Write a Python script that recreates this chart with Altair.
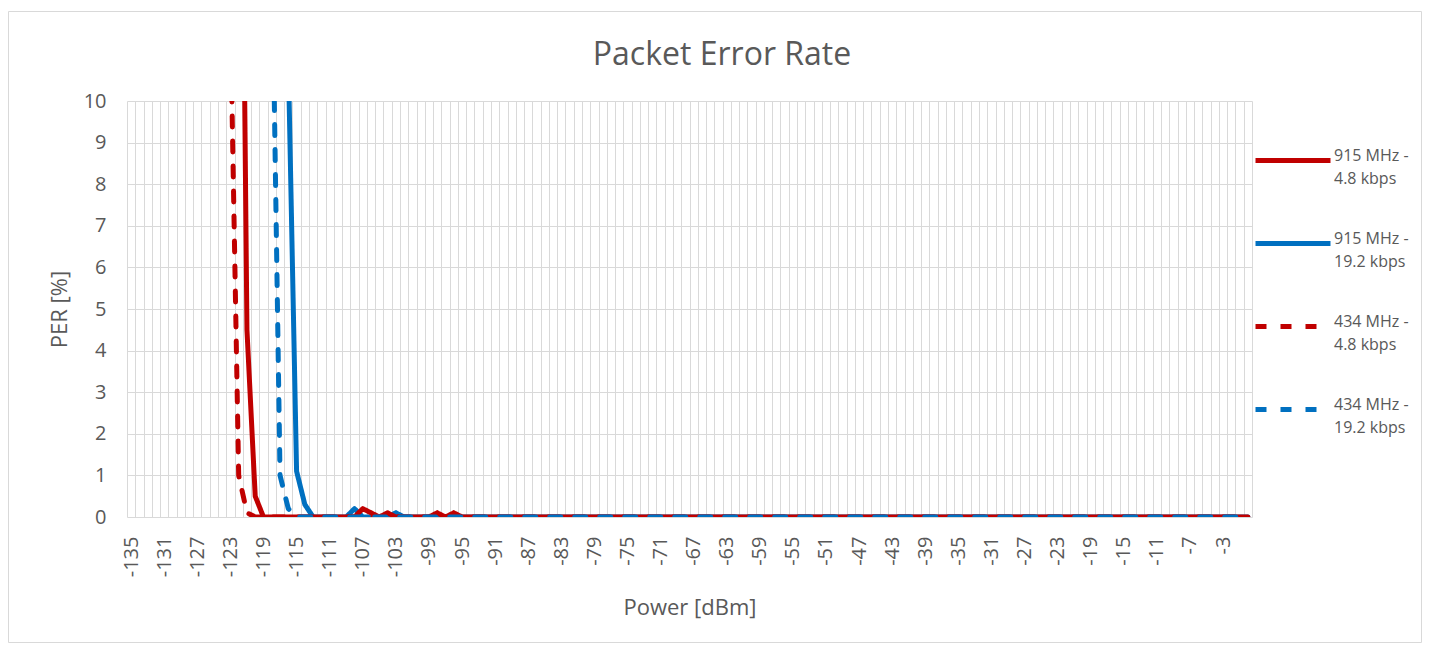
import altair as alt
import pandas as pd

# ---------------- data ----------------
power = list(range(-135, 1))  # categories -135 .. 0 dBm

series_names = [
    "915 MHz - 4.8 kbps",
    "915 MHz - 19.2 kbps",
    "434 MHz - 4.8 kbps",
    "434 MHz - 19.2 kbps",
]

per_915_48 = [
    100, 100, 100, 100, 100, 100, 100, 100, 100, 100, 100, 100, 100,  # -135..-123
    25, 4.5, 0.5,                                                     # -122..-120
    0, 0, 0, 0, 0, 0, 0, 0, 0, 0, 0, 0,                               # -119..-108
    0.2, 0.1, 0, 0.1,                                                 # -107..-104
    0, 0, 0, 0, 0,                                                    # -103..-99
    0.1, 0, 0.1,                                                      # -98..-96
    0, 0, 0, 0, 0, 0, 0, 0, 0, 0, 0, 0, 0, 0, 0, 0,                   # -95..-80
    0, 0, 0, 0, 0, 0, 0, 0, 0, 0, 0, 0, 0, 0, 0, 0,                   # -79..-64
    0, 0, 0, 0, 0, 0, 0, 0, 0, 0, 0, 0, 0, 0, 0, 0,                   # -63..-48
    0, 0, 0, 0, 0, 0, 0, 0, 0, 0, 0, 0, 0, 0, 0, 0,                   # -47..-32
    0, 0, 0, 0, 0, 0, 0, 0, 0, 0, 0, 0, 0, 0, 0, 0,                   # -31..-16
    0, 0, 0, 0, 0, 0, 0, 0, 0, 0, 0, 0, 0, 0, 0, 0,                   # -15..0
]

per_915_192 = [
    100, 100, 100, 100, 100, 100, 100, 100, 100, 100,                 # -135..-126
    100, 100, 100, 100, 100, 100, 100, 100, 100,                      # -125..-117
    11, 1.1, 0.3,                                                     # -116..-114
    0, 0, 0, 0, 0,                                                    # -113..-109
    0.2,                                                              # -108
    0, 0, 0, 0,                                                       # -107..-104
    0.1,                                                              # -103
    0, 0, 0, 0, 0, 0, 0,                                              # -102..-96
    0, 0, 0, 0, 0, 0, 0, 0, 0, 0, 0, 0, 0, 0, 0, 0,                   # -95..-80
    0, 0, 0, 0, 0, 0, 0, 0, 0, 0, 0, 0, 0, 0, 0, 0,                   # -79..-64
    0, 0, 0, 0, 0, 0, 0, 0, 0, 0, 0, 0, 0, 0, 0, 0,                   # -63..-48
    0, 0, 0, 0, 0, 0, 0, 0, 0, 0, 0, 0, 0, 0, 0, 0,                   # -47..-32
    0, 0, 0, 0, 0, 0, 0, 0, 0, 0, 0, 0, 0, 0, 0, 0,                   # -31..-16
    0, 0, 0, 0, 0, 0, 0, 0, 0, 0, 0, 0, 0, 0, 0, 0,                   # -15..0
]

per_434_48 = [
    100, 100, 100, 100, 100, 100, 100, 100, 100, 100, 100, 100,       # -135..-124
    12, 1.0, 0.1,                                                     # -123..-121
    0, 0, 0, 0, 0, 0, 0, 0, 0, 0, 0, 0, 0,                            # -120..-108
    0, 0, 0, 0, 0, 0, 0, 0, 0, 0, 0, 0,                               # -107..-96
    0, 0, 0, 0, 0, 0, 0, 0, 0, 0, 0, 0, 0, 0, 0, 0,                   # -95..-80
    0, 0, 0, 0, 0, 0, 0, 0, 0, 0, 0, 0, 0, 0, 0, 0,                   # -79..-64
    0, 0, 0, 0, 0, 0, 0, 0, 0, 0, 0, 0, 0, 0, 0, 0,                   # -63..-48
    0, 0, 0, 0, 0, 0, 0, 0, 0, 0, 0, 0, 0, 0, 0, 0,                   # -47..-32
    0, 0, 0, 0, 0, 0, 0, 0, 0, 0, 0, 0, 0, 0, 0, 0,                   # -31..-16
    0, 0, 0, 0, 0, 0, 0, 0, 0, 0, 0, 0, 0, 0, 0, 0,                   # -15..0
]

per_434_192 = [
    100, 100, 100, 100, 100, 100, 100, 100, 100,                      # -135..-127
    100, 100, 100, 100, 100, 100, 100, 100,                           # -126..-119
    14, 1.0, 0.2,                                                     # -118..-116
    0, 0, 0, 0, 0, 0, 0, 0,                                           # -115..-108
    0, 0, 0, 0, 0, 0, 0, 0, 0, 0, 0, 0,                               # -107..-96
    0, 0, 0, 0, 0, 0, 0, 0, 0, 0, 0, 0, 0, 0, 0, 0,                   # -95..-80
    0, 0, 0, 0, 0, 0, 0, 0, 0, 0, 0, 0, 0, 0, 0, 0,                   # -79..-64
    0, 0, 0, 0, 0, 0, 0, 0, 0, 0, 0, 0, 0, 0, 0, 0,                   # -63..-48
    0, 0, 0, 0, 0, 0, 0, 0, 0, 0, 0, 0, 0, 0, 0, 0,                   # -47..-32
    0, 0, 0, 0, 0, 0, 0, 0, 0, 0, 0, 0, 0, 0, 0, 0,                   # -31..-16
    0, 0, 0, 0, 0, 0, 0, 0, 0, 0, 0, 0, 0, 0, 0, 0,                   # -15..0
]

series_values = [per_915_48, per_915_192, per_434_48, per_434_192]
for vals in series_values:
    assert len(vals) == len(power)

y_ticks = [0, 1, 2, 3, 4, 5, 6, 7, 8, 9, 10]
x_label_step = 4

rows = []
for name, vals in zip(series_names, series_values):
    for p, v in zip(power, vals):
        rows.append({"power": p, "per": v, "series": name})
df = pd.DataFrame(rows)

# category boundaries (gridlines between categories, Excel style)
x_bounds = [p - 0.5 for p in power] + [power[-1] + 0.5]

# ---------------- style ----------------
FONT = "Open Sans"
TXT = "#595959"
GRID = "#d9d9d9"
RED = "#C00000"
BLUE = "#0070C0"

W, H = 1125, 416
unit = W / len(power)

x_enc = alt.X(
    "power:Q",
    scale=alt.Scale(domain=[x_bounds[0], x_bounds[-1]], nice=False, zero=False),
    axis=alt.Axis(
        values=x_bounds,
        labelExpr=(
            f"(datum.value < 0 && (datum.value - ({x_bounds[0]})) % {x_label_step} == 0)"
            " ? '' + (datum.value + 0.5) : ''"
        ),
        labelAngle=270,
        labelOffset=unit / 2,
        labelOverlap=False,
        labelFlush=False,
        labelPadding=19,
        labelFont=FONT,
        labelFontSize=20,
        labelColor=TXT,
        ticks=False,
        domain=False,
        grid=True,
        gridColor=GRID,
        gridWidth=1,
        title="Power [dBm]",
        titleFont=FONT,
        titleFontSize=22,
        titleFontWeight="normal",
        titleColor=TXT,
        titleX=W / 2,
        titleY=90,
        titleBaseline="middle",
        titleAlign="center",
    ),
)

y_enc = alt.Y(
    "per:Q",
    scale=alt.Scale(domain=[0, 10], nice=False),
    axis=alt.Axis(
        values=y_ticks,
        labelFont=FONT,
        labelFontSize=20,
        labelColor=TXT,
        labelPadding=21,
        ticks=False,
        domain=False,
        grid=True,
        gridColor=GRID,
        gridWidth=1,
        title="PER [%]",
        titleFont=FONT,
        titleFontSize=22,
        titleFontWeight="normal",
        titleColor=TXT,
        titleAngle=270,
        titleX=-68,
        titleY=H / 2,
        titleBaseline="middle",
        titleAlign="center",
    ),
)

legend = alt.Legend(
    title=None,
    orient="none",
    legendX=1126,
    legendY=19.5,
    padding=0,
    symbolType="stroke",
    symbolSize=5625,
    symbolStrokeWidth=5,
    labelFont=FONT,
    labelFontSize=16,
    labelColor=TXT,
    labelBaseline="alphabetic",
    labelOffset=1,
    rowPadding=17,
    labelLimit=200,
    labelExpr="[substring(datum.label, 0, indexof(datum.label, '-') + 1), substring(datum.label, indexof(datum.label, '-') + 2)]",
)

color_enc = alt.Color(
    "series:N",
    scale=alt.Scale(domain=series_names, range=[RED, BLUE, RED, BLUE]),
    legend=legend,
)
dash_enc = alt.StrokeDash(
    "series:N",
    scale=alt.Scale(domain=series_names, range=[[1, 0], [1, 0], [11, 14], [11, 14]]),
    legend=legend,
)

base = alt.Chart(df)


def series_layer(name):
    return (
        base.transform_filter(alt.datum.series == name)
        .mark_line(strokeWidth=5, strokeCap="round", strokeJoin="round", clip=True)
        .encode(x=x_enc, y=y_enc, color=color_enc, strokeDash=dash_enc)
    )


draw_order = [series_names[1], series_names[0], series_names[2], series_names[3]]
lines = [series_layer(n) for n in draw_order]

border = (
    alt.Chart(pd.DataFrame({"k": [0]}))
    .mark_rect(filled=False, stroke=GRID, strokeWidth=1)
    .encode(
        x=alt.value(-118.5),
        x2=alt.value(1294.5),
        y=alt.value(-89.5),
        y2=alt.value(541.5),
    )
)

chart = (
    alt.layer(border, *lines)
    .properties(
        width=W,
        height=H,
        autosize=alt.AutoSizeParams(type="none"),
        padding={"left": 119, "top": 93, "right": 172, "bottom": 127},
        background="white",
        title=alt.TitleParams(
            "Packet Error Rate",
            font=FONT,
            fontSize=32,
            fontWeight="normal",
            color=TXT,
            anchor="middle",
            frame="bounds",
            baseline="alphabetic",
            dx=7,
            dy=86,
            offset=0,
        ),
    )
    .configure(
        style={"guide-label": {"lineHeight": 23}},
        view=alt.ViewConfig(strokeWidth=0),
    )
)

chart.save("out.html", embed_options={"renderer": "svg", "actions": False})
